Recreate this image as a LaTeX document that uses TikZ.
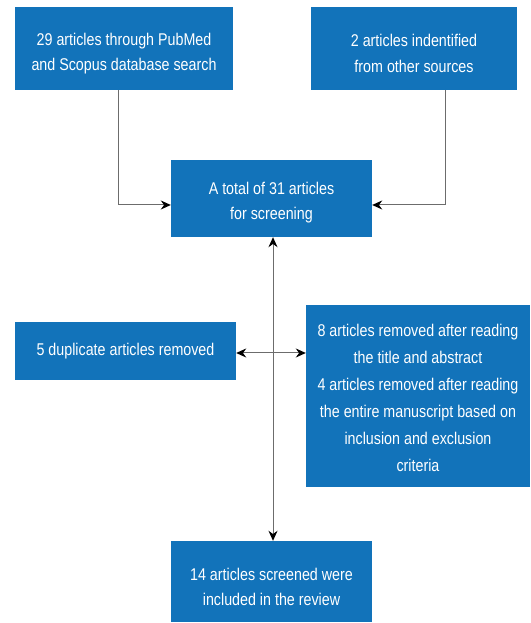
\documentclass[tikz,border=0pt]{standalone}
\usepackage{fontspec}
\setmainfont[FakeStretch=0.84]{Liberation Sans}
\usetikzlibrary{arrows.meta}
\definecolor{boxblue}{HTML}{1273BA}
\begin{document}
\begin{tikzpicture}[x=1pt,y=1pt,
  box/.style={fill=boxblue, inner sep=0pt},
  txt/.style={text=white, align=center, inner sep=0pt,
    font=\fontsize{17}{25.5}\selectfont},
  conn/.style={draw=gray!85!black, line width=1pt},
  tip/.tip={Stealth[color=black,length=10pt,width=9pt]}]
\useasboundingbox (0,0) rectangle (530,623);
\node[box, minimum width=218pt, minimum height=83pt] (b1) at (124,574.5) {};
\node[txt] (t1) at ([yshift=-5pt]b1.center)
  {29 articles through PubMed\\and Scopus database search};
\node[box, minimum width=206pt, minimum height=83pt] (b2) at (414,574.5) {};
\node[txt] (t2) at ([yshift=-5pt]b2.center)
  {2 articles indentified\\from other sources};
\node[box, minimum width=201pt, minimum height=77pt] (b3) at (271.5,424.5) {};
\node[txt] (t3) at ([yshift=-4pt]b3.center)
  {A total of 31 articles\\for screening};
\node[box, minimum width=221pt, minimum height=58pt] (b4) at (125.5,272) {};
\node[txt] (t4) at (b4.center) {5 duplicate articles removed};
\node[box, minimum width=224pt, minimum height=182pt] (b5) at (418,227) {};
\node[txt, font=\fontsize{17}{27}\selectfont] (t5) at ([yshift=-1.5pt]b5.center)
  {8 articles removed after reading\\the title and abstract\\4 articles removed after reading\\the entire manuscript based on\\inclusion and exclusion\\criteria};
\node[box, minimum width=201pt, minimum height=81pt] (b6) at (271.5,41.5) {};
\node[txt] (t6) at ([yshift=-5.5pt]b6.center)
  {14 articles screened were\\included in the review};
\coordinate (cl) at (118,418);
\coordinate (cr) at (445,418);
\coordinate (v) at (273,0);
\coordinate (h) at (0,270);
\draw[conn, -tip] (b1.south -| cl) |- (cl -| b3.west);
\draw[conn, -tip] (b2.south -| cr) |- (cr -| b3.east);
\draw[conn, tip-tip] (b3.south -| v) -- (b6.north -| v);
\draw[conn, tip-tip] (b4.east |- h) -- (b5.west |- h);
\end{tikzpicture}
\end{document}
